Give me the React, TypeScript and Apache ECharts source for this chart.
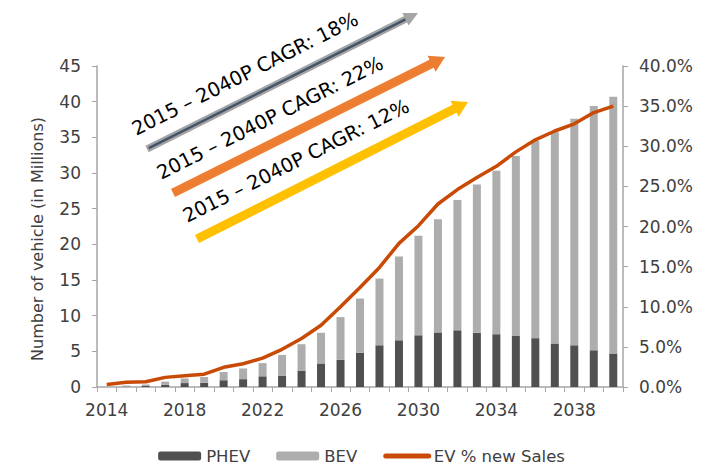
import React, { useEffect, useRef } from "react";
import * as echarts from "echarts";

const years = ["2014","2015","2016","2017","2018","2019","2020","2021","2022","2023","2024","2025","2026","2027","2028","2029","2030","2031","2032","2033","2034","2035","2036","2037","2038","2039","2040"];
const phev = [0, 0.05, 0.15, 0.3, 0.55, 0.6, 0.95, 1.1, 1.5, 1.55, 2.3, 3.3, 3.8, 4.8, 5.85, 6.55, 7.25, 7.65, 7.95, 7.6, 7.4, 7.15, 6.85, 6.1, 5.85, 5.15, 4.7];
const bev = [0, 0.15, 0.2, 0.45, 0.65, 0.8, 1.15, 1.5, 1.85, 2.95, 3.7, 4.3, 6.0, 7.6, 9.35, 11.75, 13.95, 15.85, 18.25, 20.8, 22.9, 25.25, 27.65, 29.6, 31.75, 34.25, 36.0];
const evShare = [0.3, 0.6, 0.65, 1.2, 1.4, 1.6, 2.45, 2.9, 3.6, 4.7, 6.05, 7.7, 10.0, 12.4, 14.9, 17.9, 20.1, 22.8, 24.6, 26.1, 27.5, 29.3, 30.8, 31.9, 32.8, 34.2, 35.0];
const cagrLabels = ["2015 – 2040P CAGR: 18%", "2015 – 2040P CAGR: 22%", "2015 – 2040P CAGR: 12%"];
const yAxisTitle = "Number of vehicle (in Millions)";

const FONT = "DejaVu Sans";
const TXT = "#404040";
const AX = "#a6a6a6";
const LINE = "#c94a05";

function arrow(tail: number[], tip: number[], width: number, color: string, headLen: number, headHalf: number, inner?: { color: string; width: number }) {
  const dx = tip[0] - tail[0];
  const dy = tip[1] - tail[1];
  const L = Math.sqrt(dx * dx + dy * dy);
  const ux = dx / L, uy = dy / L;
  const nx = -uy, ny = ux;
  const bx = tip[0] - ux * headLen, by = tip[1] - uy * headLen;
  const els: any[] = [
    { type: "line", shape: { x1: tail[0], y1: tail[1], x2: bx + ux * 1, y2: by + uy * 1 }, style: { stroke: color, lineWidth: width } },
  ];
  if (inner) {
    els.push({ type: "line", shape: { x1: tail[0] + ux * 2, y1: tail[1] + uy * 2, x2: bx, y2: by }, style: { stroke: inner.color, lineWidth: inner.width } });
  }
  els.push({
    type: "polygon",
    shape: { points: [[tip[0], tip[1]], [bx + nx * headHalf, by + ny * headHalf], [bx - nx * headHalf, by - ny * headHalf]] },
    style: { fill: color },
  });
  return els;
}

export default function App() {
  const ref = useRef<HTMLDivElement>(null);
  useEffect(() => {
    document.body.style.margin = "0";
    const chart = echarts.init(ref.current!, null, { renderer: "svg" });
    const rot = Math.atan2(136, 271);
    const textEl = (x: number, y: number, t: string) => ({
      type: "text", x, y, rotation: rot,
      style: { text: t, font: `19.5px '${FONT}'`, fill: "#000", align: "center", verticalAlign: "middle" },
      z: 10,
    });
    chart.setOption({
      animation: false,
      textStyle: { fontFamily: FONT },
      grid: { left: 97, right: 100, top: 66, bottom: 80 },
      legend: {
        top: 442, left: "center", itemWidth: 43, itemHeight: 9, itemGap: 26,
        textStyle: { color: TXT, fontSize: 16.5, fontFamily: FONT, lineHeight: 18 },
        data: [
          { name: "PHEV" },
          { name: "BEV" },
          { name: "EV % new Sales", lineStyle: { width: 5, cap: "round" }, itemStyle: { opacity: 0 } },
        ],
      },
      xAxis: {
        type: "category", data: years,
        axisLine: { lineStyle: { color: AX, width: 1.5 } },
        axisTick: { show: true, interval: 0, length: 5, lineStyle: { color: AX } },
        axisLabel: { interval: 3, color: TXT, fontSize: 17, fontFamily: FONT, margin: 14 },
      },
      yAxis: [
        {
          type: "value", min: 0, max: 45, interval: 5,
          axisLine: { show: true, lineStyle: { color: AX, width: 1.5 } },
          axisTick: { show: true, length: 5, lineStyle: { color: AX } },
          axisLabel: { color: TXT, fontSize: 17, fontFamily: FONT, margin: 16 },
          splitLine: { show: false },
        },
        {
          type: "value", min: 0, max: 40, interval: 5, position: "right",
          axisLine: { show: true, lineStyle: { color: AX, width: 1.5 } },
          axisTick: { show: true, length: 5, lineStyle: { color: AX } },
          axisLabel: { color: TXT, fontSize: 17, fontFamily: FONT, margin: 16, formatter: (v: number) => v.toFixed(1) + "%" },
          splitLine: { show: false },
        },
      ],
      series: [
        { name: "PHEV", type: "bar", stack: "ev", data: phev, barWidth: 8, itemStyle: { color: "#505050" } },
        { name: "BEV", type: "bar", stack: "ev", data: bev, barWidth: 8, itemStyle: { color: "#adadad" } },
        {
          name: "EV % new Sales", type: "line", yAxisIndex: 1, data: evShare, symbol: "none", z: 5,
          lineStyle: { color: LINE, width: 3.5 }, itemStyle: { color: LINE },
        },
      ],
      graphic: [
        ...arrow([147, 149], [418, 13], 7, "#a5a5a5", 14, 7, { color: "#44546a", width: 2.5 }),
        ...arrow([173, 193], [445, 57], 9, "#ed7d31", 15, 9),
        ...arrow([197, 239], [468, 102], 9, "#ffc000", 15, 9),
        textEl(245, 74, cagrLabels[0]),
        textEl(270, 118, cagrLabels[1]),
        textEl(296, 161, cagrLabels[2]),
        {
          type: "text", x: 37, y: 239, rotation: Math.PI / 2,
          style: { text: yAxisTitle, font: `16px '${FONT}'`, fill: TXT, align: "center", verticalAlign: "middle" },
        },
      ],
    });
    return () => chart.dispose();
  }, []);
  return <div ref={ref} style={{ width: 723, height: 467 }} />;
}
